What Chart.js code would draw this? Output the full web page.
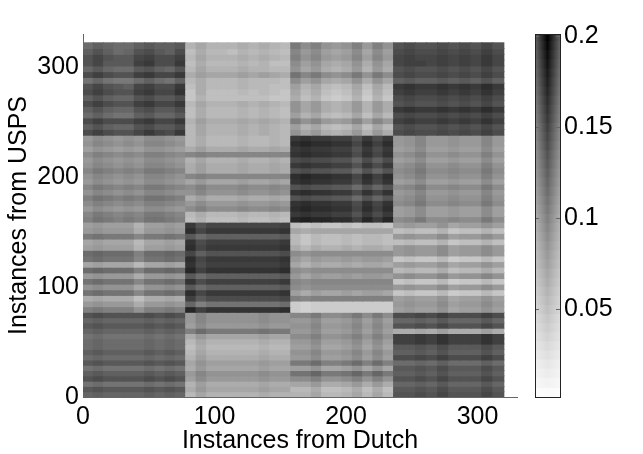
<!DOCTYPE html>
<html>
<head>
<meta charset="utf-8">
<style>
html, body { margin: 0; background: #fff; }
#wrap { position: relative; width: 643px; height: 454px; }
canvas { position: absolute; top: 0; left: 0; }
</style>
<script src="https://cdn.jsdelivr.net/npm/chart.js@4"></script>
</head>
<body>
<div id="wrap"><canvas id="heat" width="643" height="454"></canvas><canvas id="bar" width="643" height="454"></canvas></div>
<script>
const axisTicks = [0, 100, 200, 300];
const colorbarTicks = [0.05, 0.1, 0.15, 0.2];
const colBlocks = [0, 78, 158, 236, 320];
const rowBlocks = [322, 238, 159, 77, 0];
const colorbarLevels = [0.004, 0.01, 0.015, 0.02, 0.025, 0.03, 0.035, 0.04, 0.045, 0.05, 0.055, 0.06, 0.065, 0.07, 0.075, 0.08, 0.085, 0.09, 0.095, 0.1, 0.105, 0.11, 0.115, 0.12, 0.125, 0.13, 0.135, 0.14, 0.145, 0.15, 0.155, 0.16, 0.165, 0.17, 0.175, 0.18, 0.185, 0.19, 0.195, 0.2];
const heatUnit = 0.005; // cell values below are in steps of 0.005, top row first
const heatRows = [
[23,25,24,23,23,25,26,25,25,26,12,14,12,12,12,13,12,13,12,11,21,18,20,17,16,17,20,16,20,17,27,28,27,27,28,27,28,27,29,27],
[25,27,25,23,24,27,28,26,25,28,10,13,11,11,10,12,11,12,11,10,19,16,18,15,14,15,18,14,18,15,28,29,28,28,29,28,29,28,30,28],
[27,29,27,26,26,29,30,28,28,30,11,14,12,12,12,13,12,13,12,11,20,17,19,16,15,16,19,15,19,16,29,30,29,29,30,29,30,29,31,29],
[27,29,26,26,26,30,31,28,28,31,10,13,11,11,11,12,11,12,10,10,18,15,17,14,13,14,17,13,17,14,29,30,30,29,30,29,30,29,31,29],
[24,26,24,23,23,26,27,25,24,27,11,14,12,12,12,13,12,12,11,11,17,14,16,13,12,13,16,12,16,13,27,28,27,27,28,27,28,27,29,27],
[28,30,28,27,27,30,31,29,29,31,13,15,14,14,14,15,14,15,14,13,22,19,21,18,17,18,21,17,21,18,28,29,28,28,29,28,29,28,30,28],
[22,24,22,21,21,23,25,23,22,25,11,13,11,11,11,12,11,11,11,10,18,15,17,14,13,14,17,13,17,14,25,26,25,25,26,25,26,25,27,25],
[27,29,27,26,25,29,30,28,28,31,10,13,11,11,11,12,11,11,10,10,15,12,14,11,10,11,14,10,14,11,31,32,31,31,32,31,32,31,33,31],
[28,30,28,27,27,30,31,29,29,32,9,13,10,10,10,11,10,11,10,9,14,11,13,10,9,10,13,9,13,10,30,31,30,30,31,30,31,30,32,30],
[25,27,25,24,24,27,28,26,26,28,9,12,10,10,10,10,10,10,9,9,13,10,12,9,8,9,12,8,12,9,28,29,28,28,29,28,29,28,30,28],
[28,30,28,27,27,30,31,29,29,31,11,14,12,12,12,13,12,13,12,11,17,14,16,13,12,13,16,12,16,13,27,28,27,27,28,27,28,27,29,27],
[25,27,25,24,24,27,28,26,26,28,10,13,11,11,11,12,11,12,11,10,17,14,16,13,12,13,16,12,16,13,31,32,31,31,32,31,32,31,33,31],
[23,25,23,22,22,25,26,24,24,26,10,13,11,11,11,12,11,12,11,10,15,12,14,11,10,11,14,10,14,11,28,29,28,28,29,28,29,28,30,28],
[28,30,28,28,28,30,31,29,29,31,12,15,13,13,13,14,13,14,13,12,20,17,19,16,15,16,19,15,19,16,30,31,30,30,31,30,31,30,32,30],
[25,27,25,24,24,27,28,26,26,28,11,14,12,12,12,13,12,13,12,11,15,12,14,11,10,11,14,10,14,11,27,28,27,27,28,27,28,27,29,27],
[28,30,28,27,27,29,31,29,28,31,11,14,12,12,12,13,12,13,12,11,17,14,16,13,12,13,16,12,16,13,28,29,28,28,29,28,29,28,30,28],
[16,18,17,16,17,16,18,18,17,16,11,13,11,11,11,12,11,11,12,11,31,32,31,31,30,30,27,31,28,31,16,17,19,16,16,17,16,16,19,16],
[17,19,18,17,18,17,19,19,18,17,11,13,11,11,11,12,11,11,12,11,33,34,33,33,32,32,29,33,30,33,16,17,19,16,16,17,16,16,19,16],
[15,17,16,15,16,15,17,17,16,15,13,15,13,13,13,14,13,13,14,13,31,32,31,31,30,30,27,31,28,31,15,16,18,15,15,16,15,15,18,15],
[18,20,19,18,19,18,20,20,19,18,19,20,19,19,19,19,19,19,19,19,32,33,32,32,31,31,28,32,29,32,17,18,20,17,17,18,17,17,20,17],
[16,18,17,16,17,16,18,18,17,16,12,14,12,12,12,13,12,12,13,12,28,29,28,28,27,27,24,28,25,28,15,16,18,15,15,16,15,15,18,15],
[17,19,18,17,18,17,19,19,18,17,13,15,13,13,13,14,13,13,14,13,31,32,31,31,30,30,27,31,28,31,17,18,20,17,17,18,17,17,20,17],
[19,21,20,19,20,19,21,21,20,19,13,15,13,13,13,14,13,13,14,13,27,28,27,27,26,26,23,27,24,27,18,19,21,18,18,19,18,18,21,18],
[17,19,18,17,18,17,19,19,18,17,19,20,19,19,19,19,19,19,19,19,33,34,33,33,32,32,29,33,30,33,17,18,20,17,17,18,17,17,20,17],
[16,18,17,16,17,16,18,18,17,16,14,16,14,14,14,15,14,14,15,14,32,33,32,32,31,31,28,32,29,32,15,16,18,15,15,16,15,15,18,15],
[19,21,20,19,20,19,21,21,20,19,18,20,18,18,18,19,18,18,19,18,27,28,27,27,26,26,23,27,24,27,18,19,21,18,18,19,18,18,21,18],
[17,19,18,17,18,17,19,19,18,17,17,19,17,17,17,18,17,17,18,17,32,33,32,32,31,31,28,32,29,32,16,17,19,16,16,17,16,16,19,16],
[20,22,21,20,21,20,22,22,21,20,13,15,13,13,13,14,13,13,14,13,27,28,27,27,26,26,23,27,24,27,17,18,20,17,17,18,17,17,20,17],
[18,20,19,18,19,18,20,20,19,18,16,18,16,16,16,17,16,16,17,16,32,33,32,32,31,31,28,32,29,32,18,19,21,18,18,19,18,18,21,18],
[16,18,17,16,17,16,18,18,17,16,18,20,18,18,18,19,18,18,19,18,33,34,33,33,32,32,29,33,30,33,15,16,18,15,15,16,15,15,18,15],
[19,21,20,19,20,19,21,21,20,19,11,13,11,11,11,12,11,11,12,11,31,32,31,31,30,30,27,31,28,31,15,16,18,15,15,16,15,15,18,15],
[20,22,21,20,21,20,22,22,21,20,10,12,10,10,10,11,10,10,11,10,34,35,34,34,33,33,30,34,31,34,18,19,21,18,18,19,18,18,21,18],
[15,16,15,15,15,12,15,15,16,15,31,27,29,29,29,29,29,29,29,30,10,9,10,9,9,10,9,10,10,9,15,16,15,15,17,14,15,15,17,15],
[16,17,16,16,16,13,16,16,17,16,33,29,31,31,31,31,31,31,31,32,14,13,14,14,14,14,14,14,14,14,10,11,10,10,12,9,10,10,12,10],
[21,22,21,21,21,19,21,21,22,21,26,23,25,25,25,25,25,25,25,26,11,9,11,10,10,11,10,11,11,10,16,17,16,16,18,15,16,16,18,16],
[14,15,14,14,14,11,14,14,15,14,32,28,30,30,30,30,30,30,30,31,11,9,11,10,10,11,10,11,11,10,10,11,10,10,12,9,10,10,12,10],
[15,16,15,15,15,12,15,15,16,15,33,29,31,31,31,31,31,31,31,32,13,11,13,12,12,13,12,13,13,12,16,17,16,16,18,15,16,16,18,16],
[23,24,23,23,23,20,23,23,24,23,29,25,27,27,27,27,27,27,27,28,18,17,18,18,18,18,18,18,18,18,16,17,16,16,18,15,16,16,18,16],
[22,23,22,22,22,19,22,22,23,22,33,29,31,31,31,31,31,31,31,32,16,14,16,15,15,16,15,16,16,15,9,10,9,9,11,8,9,9,11,9],
[14,15,14,14,14,11,14,14,15,14,32,28,30,30,30,30,30,30,30,31,14,12,14,13,13,14,13,14,14,13,15,16,15,15,17,14,15,15,17,15],
[23,24,23,23,23,20,23,23,24,23,34,30,32,32,32,32,32,32,32,33,18,17,18,18,18,18,18,18,18,18,11,12,11,11,13,10,11,11,13,11],
[16,17,16,16,16,13,16,16,17,16,26,23,25,25,25,25,25,25,25,26,16,14,16,15,15,16,15,16,16,15,17,18,17,17,19,16,17,17,19,17],
[22,23,22,22,22,19,22,22,23,22,32,28,30,30,30,30,30,30,30,31,19,18,19,19,19,19,19,19,19,19,9,10,9,9,11,8,9,9,11,9],
[17,18,17,17,17,14,17,17,18,17,26,23,25,25,25,25,25,25,25,26,18,17,18,18,18,18,18,18,18,18,16,17,16,16,18,15,16,16,18,16],
[22,23,22,22,22,19,22,22,23,22,33,29,31,31,31,31,31,31,31,32,15,13,15,14,14,15,14,15,15,14,9,10,9,9,11,8,9,9,11,9],
[13,14,13,13,13,10,13,13,14,13,30,26,28,28,28,28,28,28,28,29,20,19,20,20,20,20,20,20,20,20,15,16,15,15,17,14,15,15,17,15],
[16,17,16,16,16,13,16,16,17,16,24,20,22,22,22,22,22,22,22,23,8,7,8,8,8,8,8,8,8,8,16,17,16,16,18,15,16,16,18,16],
[20,21,20,20,20,17,20,20,21,20,34,30,32,32,32,32,32,32,32,33,8,7,8,8,8,8,8,8,8,8,15,16,15,15,17,14,15,15,17,15],
[27,28,27,27,27,27,28,27,28,27,16,19,17,17,17,17,17,18,17,17,19,19,21,18,18,19,21,18,21,18,28,28,29,28,30,28,28,28,30,28],
[24,25,24,24,24,24,25,24,25,24,16,19,17,17,17,17,17,18,17,17,16,16,18,15,15,16,18,15,18,15,24,24,25,24,26,24,24,24,26,24],
[26,27,26,26,26,26,27,26,27,26,15,18,16,16,16,16,16,17,16,16,17,17,19,16,16,17,19,16,19,16,27,27,28,27,29,27,27,27,29,27],
[24,25,24,24,24,24,25,24,25,24,20,23,21,21,21,21,21,22,21,21,16,16,18,15,15,16,18,15,18,15,13,13,14,13,15,13,13,13,15,13],
[22,23,22,22,22,22,23,22,23,22,13,16,14,14,14,14,14,15,14,14,18,18,20,17,17,18,20,17,20,17,30,30,31,30,32,30,30,30,32,30],
[23,24,23,23,23,23,24,23,24,23,11,14,12,12,12,12,12,13,12,12,16,16,18,15,15,16,18,15,18,15,30,30,31,30,32,30,30,30,32,30],
[23,24,23,23,23,23,24,23,24,23,10,13,11,11,11,11,11,12,11,11,15,15,17,14,14,15,17,14,17,14,26,26,27,26,28,26,26,26,28,26],
[25,26,25,25,25,25,26,25,26,25,11,14,12,12,12,12,12,13,12,12,17,17,19,16,16,17,19,16,19,16,25,25,26,25,27,25,25,25,27,25],
[23,24,23,23,23,23,24,23,24,23,12,15,13,13,13,13,13,14,13,13,16,16,18,15,15,16,18,15,18,15,28,28,29,28,30,28,28,28,30,28],
[26,27,26,26,26,26,27,26,27,26,14,17,15,15,15,15,15,16,15,15,21,21,23,20,20,21,23,20,23,20,23,23,24,23,25,23,23,23,25,23],
[22,23,22,22,22,22,23,22,23,22,13,16,14,14,14,14,14,15,14,14,15,15,17,14,14,15,17,14,17,14,26,26,27,26,28,26,26,26,28,26],
[25,26,25,25,25,25,26,25,26,25,16,19,17,17,17,17,17,18,17,17,22,22,24,21,21,22,24,21,24,21,25,25,26,25,27,25,25,25,27,25],
[27,28,27,27,27,27,28,27,28,27,15,18,16,16,16,16,16,17,16,16,18,18,20,17,17,18,20,17,20,17,27,27,28,27,29,27,27,27,29,27],
[22,23,22,22,22,22,23,22,23,22,12,15,13,13,13,13,13,14,13,13,14,14,16,13,13,14,16,13,16,13,24,24,25,24,26,24,24,24,26,24],
[26,27,26,26,26,26,27,26,27,26,13,16,14,14,14,14,14,15,14,14,11,11,13,10,10,11,13,10,13,10,26,26,27,26,28,26,26,26,28,26],
[24,25,24,24,24,24,25,24,25,24,11,14,12,12,12,12,12,13,12,12,12,12,14,11,11,12,14,11,14,11,27,27,28,27,29,27,27,27,29,27]
];

const grayFor = (value) => Math.round(255 * (1 - value / 0.2));
const cssGray = (g) => `rgb(${g},${g},${g})`;

// cell centres and edges per block of the matrix
const colCenters = [];
colBlocks.slice(0, -1).forEach((start, b) => {
    const width = (colBlocks[b + 1] - start) / 10;
    for (let i = 0; i < 10; i++) colCenters.push(start + width * (i + 0.5));
});
const rowEdges = [];
rowBlocks.slice(0, -1).forEach((start, b) => {
    const height = (rowBlocks[b + 1] - start) / 16;
    for (let i = 0; i < 16; i++) rowEdges.push([start + height * (i + 1), start + height * i]);
});

const heatDatasets = heatRows.map((row, r) => ({
    data: colCenters.map((x) => ({ x, y: rowEdges[r] })),
    backgroundColor: row.map((u) => cssGray(grayFor(u * heatUnit))),
    stack: 'matrix',
    barThickness: 'flex',
    categoryPercentage: 1,
    barPercentage: 1,
    borderWidth: 0,
    inflateAmount: 0.5
}));

const axisFont = { family: '"Liberation Sans", Arial, sans-serif', size: 25 };
const noLegend = { legend: { display: false }, tooltip: { enabled: false } };

new Chart(document.getElementById('heat'), {
    type: 'bar',
    data: { datasets: heatDatasets },
    options: {
        responsive: false,
        animation: false,
        layout: { padding: { top: 34, right: 126, left: 0, bottom: 0 } },
        plugins: noLegend,
        scales: {
            x: {
                type: 'linear',
                offset: false,
                min: 0,
                max: 330,
                afterFit: (scale) => { scale.height = 57; },
                afterBuildTicks: (scale) => { scale.ticks = axisTicks.map((value) => ({ value })); },
                grid: { display: false, offset: false, tickLength: 0 },
                border: { color: '#666', width: 1 },
                ticks: { color: '#000', font: axisFont, padding: 5, maxRotation: 0, autoSkip: false },
                title: { display: true, text: 'Instances from Dutch', color: '#000', font: axisFont, padding: { top: 0, bottom: -2 } }
            },
            y: {
                type: 'linear',
                stacked: false,
                min: 0,
                max: 330,
                afterFit: (scale) => { scale.width = 83; },
                afterBuildTicks: (scale) => { scale.ticks = axisTicks.map((value) => ({ value })); },
                grid: { display: false, tickLength: 0 },
                border: { color: '#666', width: 1 },
                ticks: { color: '#000', font: axisFont, padding: 4, autoSkip: false },
                title: { display: true, text: 'Instances from USPS', color: '#000', font: axisFont, padding: { top: 4, bottom: 0 } }
            }
        }
    }
});

// frame and inward ticks of the colour bar
const colorbarFrame = {
    id: 'colorbarFrame',
    afterDatasetsDraw(chart) {
        const { ctx, chartArea, scales } = chart;
        ctx.save();
        ctx.strokeStyle = '#666';
        ctx.lineWidth = 1;
        colorbarTicks.forEach((value) => {
            const y = Math.round(scales.y.getPixelForValue(value)) + 0.5;
            ctx.beginPath();
            ctx.moveTo(chartArea.left, y);
            ctx.lineTo(chartArea.left + 4, y);
            ctx.moveTo(chartArea.right - 4, y);
            ctx.lineTo(chartArea.right, y);
            ctx.stroke();
        });
        ctx.strokeStyle = '#222';
        ctx.strokeRect(chartArea.left + 0.5, chartArea.top + 0.5, chartArea.right - chartArea.left, chartArea.bottom - chartArea.top);
        ctx.restore();
    }
};

const shadedFill = (context) => {
    const { ctx, chartArea } = context.chart;
    if (!chartArea) return '#fff';
    const center = grayFor(colorbarLevels[context.dataIndex]);
    const edge = Math.round(center + (255 - center) * 0.38);
    const fill = ctx.createLinearGradient(chartArea.left, 0, chartArea.right, 0);
    fill.addColorStop(0, cssGray(edge));
    fill.addColorStop(0.5, cssGray(center));
    fill.addColorStop(1, cssGray(edge));
    return fill;
};

new Chart(document.getElementById('bar'), {
    type: 'bar',
    plugins: [colorbarFrame],
    data: {
        datasets: [{
            data: colorbarLevels.map((y) => ({ x: [0, 1], y })),
            backgroundColor: shadedFill,
            barThickness: 'flex',
            categoryPercentage: 1,
            barPercentage: 1,
            borderWidth: 0,
            inflateAmount: 0.6
        }]
    },
    options: {
        indexAxis: 'y',
        responsive: false,
        animation: false,
        layout: { padding: { top: 34, left: 535, right: 0, bottom: 57 } },
        plugins: noLegend,
        scales: {
            x: { type: 'linear', min: 0, max: 1, display: false, offset: false, grid: { offset: false } },
            y: {
                type: 'linear',
                position: 'right',
                offset: false,
                min: 0.0016,
                max: 0.2011,
                afterFit: (scale) => { scale.width = 83; },
                afterBuildTicks: (scale) => { scale.ticks = colorbarTicks.map((value) => ({ value })); },
                grid: { display: false, offset: false, tickLength: 0 },
                border: { display: false },
                ticks: { color: '#000', font: axisFont, padding: 4, autoSkip: false, callback: (value) => String(value) }
            }
        }
    }
});
</script>
</body>
</html>
